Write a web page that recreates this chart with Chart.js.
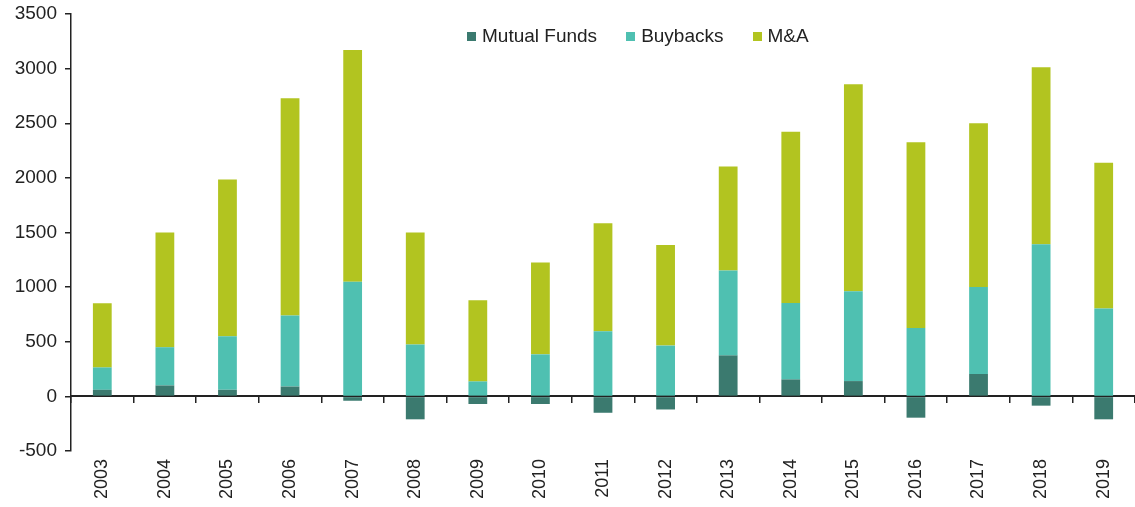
<!DOCTYPE html>
<html>
<head>
<meta charset="utf-8">
<script src="https://cdn.jsdelivr.net/npm/chart.js@4/dist/chart.umd.min.js"></script>
<style>
  html, body { margin: 0; padding: 0; background: #fff; }
  #wrap { position: relative; width: 1135px; height: 507px; }
  #legend {
    position: absolute; left: 467px; top: 25px;
    display: flex; align-items: center;
    font: 19px "Liberation Sans", Arial, sans-serif; color: #222;
  }
  #legend .item { display: flex; align-items: center; margin-right: 29px; }
  #legend .box { width: 9px; height: 9px; margin-right: 6px; }
</style>
</head>
<body>
<div id="wrap">
  <canvas id="chart" width="1135" height="507"></canvas>
  <div id="legend"></div>
</div>
<script>
// ----------------------
//  DATA
// ----------------------
const years = ['2003', '2004', '2005', '2006', '2007', '2008', '2009', '2010', '2011',
               '2012', '2013', '2014', '2015', '2016', '2017', '2018', '2019'];
const mutualFunds = [60, 100, 60, 90, -40, -210, -70, -70, -150, -120, 375, 155, 140, -195, 205, -85, -210];
const buybacks = [205, 350, 490, 650, 1050, 475, 137, 385, 596, 465, 777, 700, 822, 626, 797, 1393, 804];
const mna = [587, 1050, 1435, 1989, 2121, 1025, 743, 840, 989, 920, 953, 1567, 1895, 1699, 1498, 1619, 1334];
const yTicks = [-500, 0, 500, 1000, 1500, 2000, 2500, 3000, 3500];

const seriesNames = ['Mutual Funds', 'Buybacks', 'M&A'];
const seriesColors = ['#3b7a6f', '#4fc0b1', '#b2c420'];

// ----------------------
//  CHART
// ----------------------
const axisColor = '#222';
const font = { family: '"Liberation Sans", Arial, sans-serif', size: 19 };

const datasets = [mutualFunds, buybacks, mna].map((values, i) => ({
    label: seriesNames[i],
    data: values,
    backgroundColor: seriesColors[i],
    borderWidth: 0,
    barPercentage: 0.3,
    categoryPercentage: 1,
    xAxisID: 'x',
}));

const options = {
    responsive: false,
    animation: false,
    layout: { padding: { top: 14, right: 0, left: 0, bottom: 0 } },
    plugins: { legend: { display: false }, tooltip: { enabled: false } },
    scales: {
        x: {
            type: 'category',
            stacked: true,
            position: 'bottom',
            offset: true,
            grid: { display: false },
            border: { display: false },
            ticks: {
                color: axisColor,
                font: { family: font.family, size: 18 },
                minRotation: 90,
                maxRotation: 90,
                padding: 0,
            },
            afterFit: scale => { scale.height = 56; },
        },
        x2: {
            type: 'category',
            labels: years,
            position: { y: 0 },
            offset: true,
            grid: { offset: true, drawOnChartArea: false, drawTicks: true, tickLength: 6, color: axisColor, lineWidth: 1.5 },
            border: { display: true, color: axisColor, width: 2 },
            ticks: { display: false },
            afterFit: scale => { scale.height = 0; },
        },
        y: {
            stacked: true,
            min: -500,
            max: 3500,
            afterBuildTicks: scale => { scale.ticks = yTicks.map(v => ({ value: v })); },
            grid: { drawOnChartArea: false, drawTicks: true, tickLength: 6, color: axisColor, lineWidth: 1.5 },
            border: { display: true, color: axisColor, width: 1.5 },
            ticks: { color: axisColor, font: font, padding: 8, callback: value => String(value) },
            afterFit: scale => {
                scale.width = 71;
                scale.paddingTop = 0;
                scale.paddingBottom = 0;
            },
        },
    },
};

new Chart(document.getElementById('chart').getContext('2d'), {
    type: 'bar',
    data: { labels: years, datasets: datasets },
    options: options,
});

// LEGEND
document.getElementById('legend').innerHTML = seriesNames.map((name, i) =>
    `<div class="item"><span class="box" style="background:${seriesColors[i]}"></span>${name}</div>`
).join('');
</script>
</body>
</html>
